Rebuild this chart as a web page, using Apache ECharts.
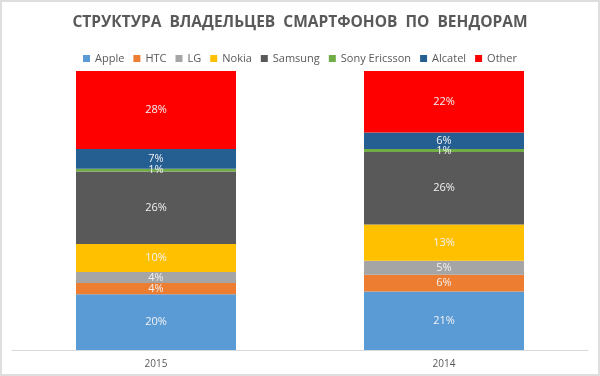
<!DOCTYPE html>
<html>
<head>
<meta charset="utf-8">
<script src="https://cdn.jsdelivr.net/npm/echarts@6/dist/echarts.min.js"></script>
<style>
  html, body { margin: 0; padding: 0; background: #fff; }
  #chart { width: 600px; height: 376px; box-sizing: border-box; border: 2px solid #dedede; }
</style>
</head>
<body>
<div id="chart"></div>
<script>
// годы (категории)
const years = ['2015', '2014']
const vendors = ['Apple', 'HTC', 'LG', 'Nokia', 'Samsung', 'Sony Ericsson', 'Alcatel', 'Other']
const colors = ['#5b9bd5', '#ed7d31', '#a5a5a5', '#ffc000', '#595959', '#70ad47', '#255e91', '#ff0000']

// доли в %, [2015, 2014]
const apple = [20, 21]
const htc = [4, 6]
const lg = [4, 5]
const nokia = [10, 13]
const samsung = [26, 26]
const sonyEricsson = [1, 1]
const alcatel = [7, 6]
const other = [28, 22]

const values = [apple, htc, lg, nokia, samsung, sonyEricsson, alcatel, other]

const chart = echarts.init(document.getElementById('chart'))

const series = vendors.map((name, i) => ({
    name: name,
    type: 'bar',
    stack: 'total',
    barWidth: 160,
    itemStyle: { color: colors[i] },
    label: {
        show: true,
        position: 'inside',
        formatter: '{c}%',
        color: '#f2f2f2',
        fontSize: 11,
        fontFamily: 'Open Sans'
    },
    data: values[i]
}))

chart.setOption({
    animation: false,
    backgroundColor: '#fff',
    title: {
        text: 'СТРУКТУРА  ВЛАДЕЛЬЦЕВ  СМАРТФОНОВ  ПО  ВЕНДОРАМ',
        left: 'center',
        top: 8,
        textStyle: {
            color: '#595959',
            fontSize: 15.5,
            fontWeight: 'bold',
            fontFamily: 'Open Sans'
        }
    },
    legend: {
        data: vendors,
        top: 46,
        left: 'center',
        icon: 'rect',
        itemWidth: 7,
        itemHeight: 7,
        itemGap: 9,
        textStyle: { color: '#595959', fontSize: 11, fontFamily: 'Open Sans' }
    },
    grid: { left: 10, right: 10, top: 69, bottom: 24 },
    xAxis: {
        type: 'category',
        data: years,
        axisLine: { lineStyle: { color: '#d9d9d9' } },
        axisTick: { show: false },
        axisLabel: { color: '#595959', fontSize: 10, margin: 9, fontFamily: 'Open Sans' }
    },
    yAxis: {
        type: 'value',
        min: 0,
        max: 100,
        show: false
    },
    series: series
})
</script>
</body>
</html>
